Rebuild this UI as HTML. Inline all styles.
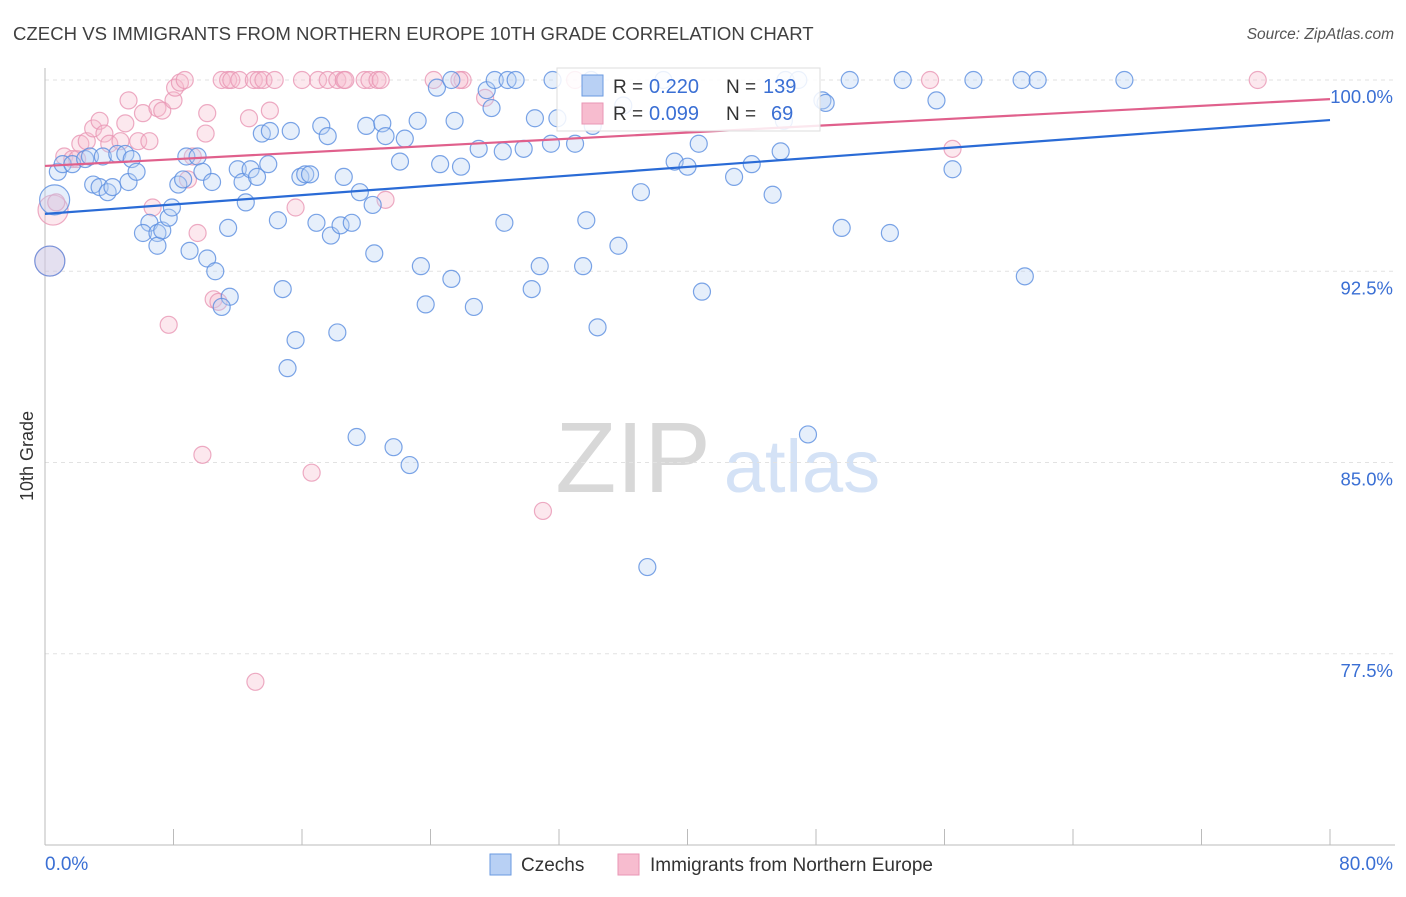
<!DOCTYPE html>
<html><head><meta charset="utf-8"><style>
body{margin:0;background:#fff;font-family:"Liberation Sans",sans-serif}
svg text{font-family:"Liberation Sans",sans-serif}
</style></head><body>
<svg id="c" width="1406" height="892" xmlns="http://www.w3.org/2000/svg">
<text x="13" y="40" font-size="18.6" fill="#404040">CZECH VS IMMIGRANTS FROM NORTHERN EUROPE 10TH GRADE CORRELATION CHART</text>
<text x="1394" y="39" font-size="15.5" fill="#555" font-style="italic" text-anchor="end">Source: ZipAtlas.com</text>
<text x="33" y="456" font-size="18" fill="#333" transform="rotate(-90 33 456)" text-anchor="middle">10th Grade</text>
<g>
<text x="633" y="492" font-size="100" fill="#d8d8d8" font-family="Liberation Serif" text-anchor="middle">ZIP</text>
<text x="802" y="492" font-size="74" fill="#d4e2f6" text-anchor="middle">atlas</text>
</g>
<g id="grid"></g><g id="axes"></g><g id="pts"></g><g id="lines"></g>
<g>
<rect x="557" y="68" width="263" height="63" fill="#fff" fill-opacity="0.85" stroke="#ddd"/>
<rect x="582" y="75" width="21" height="21" fill="#b8d0f4" stroke="#6a9ae0"/>
<rect x="582" y="103" width="21" height="21" fill="#f7bccf" stroke="#e896b4"/>
<text x="613" y="93" font-size="19" fill="#333">R =</text>
<text x="649" y="93" font-size="20" fill="#3a6fd4">0.220</text>
<text x="726" y="93" font-size="19" fill="#333">N =</text>
<text x="763" y="93" font-size="20" fill="#3a6fd4">139</text>
<text x="613" y="120" font-size="19" fill="#333">R =</text>
<text x="649" y="120" font-size="20" fill="#3a6fd4">0.099</text>
<text x="726" y="120" font-size="19" fill="#333">N =</text>
<text x="771" y="120" font-size="20" fill="#3a6fd4">69</text>
</g>
<g>
<rect x="490" y="854" width="21" height="21" fill="#b8d0f4" stroke="#6a9ae0"/>
<text x="521" y="871" font-size="19" fill="#333">Czechs</text>
<rect x="618" y="854" width="21" height="21" fill="#f7bccf" stroke="#e896b4"/>
<text x="650" y="871" font-size="19" fill="#333">Immigrants from Northern Europe</text>
</g>
</svg>
<script>
const yTicks=[100,92.5,85,77.5];
const yTickLabels=["100.0%","92.5%","85.0%","77.5%"];
const xTickVals=[0,8,16,24,32,40,48,56,64,72,80];
const czX=[0.6,0.8,1.1,1.7,2.5,2.8,3.6,4.5,5.0,5.4,3.0,3.4,3.9,4.2,5.2,5.7,6.5,6.1,7.0,7.0,7.3,7.7,7.9,8.3,8.6,8.8,9.5,9.8,10.4,9.0,10.1,10.6,11.5,11.0,11.4,12.0,12.3,12.5,12.8,13.2,13.5,14.0,13.9,14.5,14.8,15.3,15.6,15.1,15.9,16.2,16.5,16.9,17.2,17.6,17.8,18.2,18.4,18.6,19.1,19.4,19.6,20.0,20.4,20.5,21.0,21.2,21.7,22.1,22.4,22.7,23.2,23.4,23.7,24.4,24.6,25.3,25.3,25.5,25.9,26.7,27.0,27.5,27.8,28.0,28.5,28.6,28.8,29.3,29.8,30.3,30.5,30.8,31.5,31.6,31.9,33.0,33.5,33.7,34.1,34.4,35.7,37.5,37.1,38.5,39.2,40.0,40.7,40.9,42.9,44.0,45.3,45.8,46.0,46.1,46.9,47.5,48.4,48.6,49.6,50.1,52.6,53.4,55.5,56.5,57.8,60.8,61.0,61.8,67.2,0.3,34.0,36.0];
const czY=[95.3,96.4,96.7,96.7,96.9,97.0,97.0,97.1,97.1,96.9,95.9,95.8,95.6,95.8,96.0,96.4,94.4,94.0,94.0,93.5,94.1,94.6,95.0,95.9,96.1,97.0,97.0,96.4,96.0,93.3,93.0,92.5,91.5,91.1,94.2,96.5,96.0,95.2,96.5,96.2,97.9,98.0,96.7,94.5,91.8,98.0,89.8,88.7,96.2,96.3,96.3,94.4,98.2,97.8,93.9,90.1,94.3,96.2,94.4,86.0,95.6,98.2,95.1,93.2,98.3,97.8,85.6,96.8,97.7,84.9,98.4,92.7,91.2,99.7,96.7,100.0,92.2,98.4,96.6,91.1,97.3,99.6,98.9,100.0,97.2,94.4,100.0,100.0,97.3,91.8,98.5,92.7,97.5,100.0,98.5,97.5,92.7,94.5,98.2,90.3,93.5,80.9,95.6,100.0,96.8,96.6,97.5,91.7,96.2,96.7,95.5,97.2,98.4,100.0,100.0,86.1,99.2,99.1,94.2,100.0,94.0,100.0,99.2,96.5,100.0,100.0,92.3,100.0,100.0,92.9,100.0,99.0];
const imX=[0.3,0.5,0.7,1.2,1.7,2.0,2.2,2.6,3.0,3.4,3.7,4.0,4.7,5.0,5.2,5.8,6.1,6.5,6.7,7.0,7.3,7.7,8.0,8.1,8.4,8.7,8.9,9.2,9.5,9.8,10.0,10.1,10.5,10.8,11.0,11.4,11.6,12.1,12.7,13.0,13.3,13.1,13.6,14.0,14.3,15.6,16.0,16.6,17.0,17.6,18.2,18.6,18.7,19.9,20.2,20.7,21.2,20.9,24.2,26.0,25.8,27.4,31.0,33.0,55.1,56.5,75.5];
const imY=[92.9,94.9,95.2,97.0,96.9,96.9,97.5,97.6,98.1,98.4,97.9,97.5,97.6,98.3,99.2,97.6,98.7,97.6,95.0,98.9,98.8,90.4,99.2,99.7,99.9,100.0,96.1,97.0,94.0,85.3,97.9,98.7,91.4,91.3,100.0,100.0,100.0,100.0,98.5,100.0,100.0,76.4,100.0,98.8,100.0,95.0,100.0,84.6,100.0,100.0,100.0,100.0,100.0,100.0,100.0,100.0,95.3,100.0,100.0,100.0,100.0,99.3,83.1,100.0,100.0,97.3,100.0];
const czBig=[0,czX.indexOf(0.3)];
const imBig=[0,1];
const czTrend=[94.75,98.43];
const imTrend=[96.63,99.25];
const NS="http://www.w3.org/2000/svg";
const X0=45,X1=1330,Y0=80;
const sx=v=>X0+v/80*(X1-X0);
const sy=v=>Y0+(100-v)*25.5;
function mk(t,a,p){const e=document.createElementNS(NS,t);for(const k in a)e.setAttribute(k,a[k]);p.appendChild(e);return e;}
const grid=document.getElementById('grid'),axes=document.getElementById('axes'),pts=document.getElementById('pts'),lines=document.getElementById('lines');
yTicks.forEach((v,i)=>{
 const l=mk('line',{x1:X0,x2:1395,y1:sy(v),y2:sy(v),stroke:'#e2e2e2','stroke-dasharray':'4,4'},grid);
 
 
 const t=mk('text',{x:1393,y:sy(v)+23,'font-size':18.5,fill:'#3a6fd4','text-anchor':'end'},axes);
 t.textContent=yTickLabels[i];
 
 
});
const ax=mk('line',{x1:X0,x2:1395,y1:845,y2:845,stroke:'#bbb'},axes);


const ay=mk('line',{x1:X0,x2:X0,y1:68,y2:845,stroke:'#bbb'},axes);


xTickVals.forEach(v=>{
 const t=mk('line',{x1:sx(v),x2:sx(v),y1:829,y2:845,stroke:'#bbb'},axes);
 
 
});
const xl=mk('text',{x:45,y:870,'font-size':19,fill:'#3a6fd4'},axes);xl.textContent='0.0%';


const xr=mk('text',{x:1393,y:870,'font-size':19,fill:'#3a6fd4','text-anchor':'end'},axes);xr.textContent='80.0%';


function series(xs,ys,big,fill,stroke,name){
 xs.forEach((x,i)=>{
  const c=mk('circle',{cx:sx(x),cy:sy(ys[i]),r:big.includes(i)?15:8.5,fill:fill,'fill-opacity':0.35,stroke:stroke,'stroke-opacity':0.8,'stroke-width':1.2},pts);
  
  
 });
}
series(imX,imY,imBig,'#f7bccf','#e896b4','immigrants-point');
series(czX,czY,czBig,'#b8d0f4','#5a8de0','czechs-point');
const lc=mk('line',{x1:sx(0),x2:sx(80),y1:sy(czTrend[0]),y2:sy(czTrend[1]),stroke:'#2a6bd6','stroke-width':2.2},lines);


const li=mk('line',{x1:sx(0),x2:sx(80),y1:sy(imTrend[0]),y2:sy(imTrend[1]),stroke:'#e0608c','stroke-width':2.2},lines);


</script>
</body></html>
